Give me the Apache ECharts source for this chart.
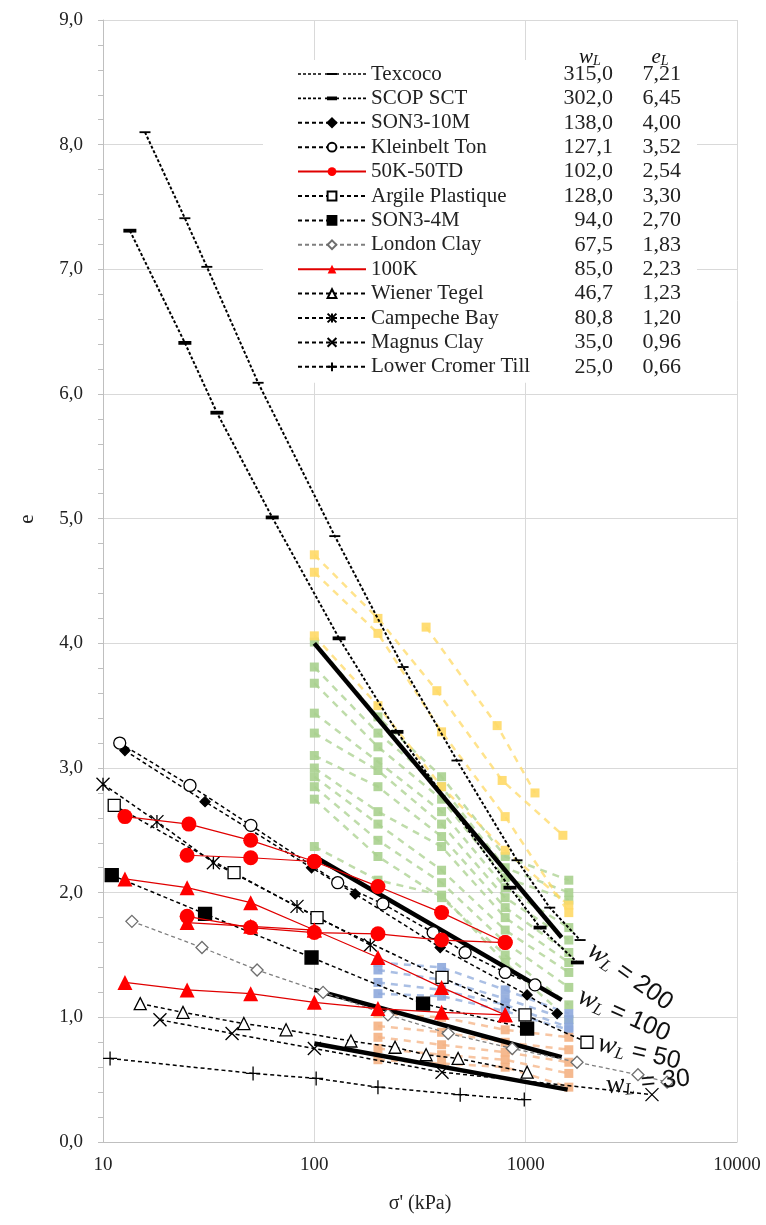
<!DOCTYPE html>
<html><head><meta charset="utf-8">
<script src="https://cdn.jsdelivr.net/npm/echarts@6/dist/echarts.min.js"></script>
<style>html,body{margin:0;padding:0;background:#fff}#c{width:766px;height:1225px}</style>
</head><body><div id="c"></div>
<script>
// ---------- legend table ----------
const soilNames = ['Texcoco','SCOP SCT','SON3-10M','Kleinbelt Ton','50K-50TD','Argile Plastique','SON3-4M','London Clay','100K','Wiener Tegel','Campeche Bay','Magnus Clay','Lower Cromer Till'];
const wLValues = ['315,0','302,0','138,0','127,1','102,0','128,0','94,0','67,5','85,0','46,7','80,8','35,0','25,0'];
const eLValues = ['7,21','6,45','4,00','3,52','2,54','3,30','2,70','1,83','2,23','1,23','1,20','0,96','0,66'];

// ---------- axis ticks ----------
const xTicks = [10, 100, 1000, 10000];
const yTicks = [0,1,2,3,4,5,6,7,8,9];

// ---------- soil data (sigma' kPa, e) ----------
const texcocoS = [15.8, 24.4, 31.0, 54.2, 125, 263, 473, 910, 1300, 1810];
const texcocoE = [8.10, 7.41, 7.02, 6.09, 4.86, 3.81, 3.06, 2.26, 1.88, 1.62];
const scopS = [13.4, 24.4, 34.6, 63.2, 131, 246, 843, 1170, 1757];
const scopE = [7.31, 6.41, 5.85, 5.01, 4.04, 3.29, 2.04, 1.72, 1.44];
const son10S = [12.7, 30.4, 97, 156, 394, 1016, 1409];
const son10E = [3.14, 2.73, 2.20, 1.99, 1.56, 1.18, 1.03];
const kleinS = [12.0, 25.8, 50.1, 129, 211, 365, 517, 800, 1107];
const kleinE = [3.20, 2.86, 2.54, 2.08, 1.91, 1.68, 1.52, 1.36, 1.26];
const k50aS = [12.7, 25.5, 50, 100, 200, 400, 800];
const k50aE = [2.61, 2.55, 2.42, 2.25, 2.05, 1.84, 1.60];
const k50bS = [25, 50, 100];
const k50bE = [2.30, 2.28, 2.25];
const k50cS = [25, 50, 100, 200, 400, 800];
const k50cE = [1.81, 1.72, 1.68, 1.67, 1.62, 1.60];
const argileS = [11.3, 41.7, 103, 402, 993, 1950];
const argileE = [2.70, 2.16, 1.80, 1.32, 1.02, 0.80];
const son4S = [11.0, 30.4, 97, 327, 1016];
const son4E = [2.14, 1.83, 1.48, 1.11, 0.91];
const londonS = [13.7, 29.4, 53.6, 110, 223, 430, 864, 1750, 3400, 4670];
const londonE = [1.77, 1.56, 1.38, 1.20, 1.02, 0.87, 0.75, 0.64, 0.54, 0.48];
const k100aS = [12.7, 25, 50, 100, 200, 400, 800];
const k100aE = [2.11, 2.04, 1.92, 1.70, 1.48, 1.24, 1.02];
const k100bS = [25, 50, 100];
const k100bE = [1.76, 1.73, 1.70];
const k100cS = [12.7, 25, 50, 100, 200, 400, 800];
const k100cE = [1.28, 1.22, 1.19, 1.12, 1.07, 1.04, 1.02];
const wienerS = [15.0, 23.9, 46.4, 73.5, 149, 241, 338, 479, 1016];
const wienerE = [1.11, 1.04, 0.95, 0.90, 0.81, 0.76, 0.70, 0.67, 0.56];
const campecheS = [10, 18.0, 33.3, 82.8, 184];
const campecheE = [2.87, 2.57, 2.24, 1.89, 1.58];
const magnusS = [18.6, 40.8, 100, 402, 3960];
const magnusE = [0.98, 0.87, 0.75, 0.56, 0.38];
const cromerS = [10.8, 51.3, 102, 200, 490, 985];
const cromerE = [0.67, 0.55, 0.51, 0.44, 0.38, 0.34];

// ---------- reference lines w_L ----------
const refLabels = ['200', '100', '50', '30'];
const refS = [[100, 1480], [100, 1480], [100, 1480], [100, 1580]];
const refE = [[4.00, 1.64], [2.29, 1.14], [1.22, 0.68], [0.79, 0.42]];

// ---------- background datasets ----------
const stepS = [100, 200, 400, 800, 1600];
const greenE = [
  [4.01, 3.41, 2.93, 2.29, 2.10],
  [3.81, 3.28, 2.85, 2.20, 2.00],
  [3.68, 3.17, 2.75, 2.12, 1.94],
  [3.44, 3.05, 2.65, 2.04, 1.72],
  [3.28, 2.98, 2.55, 1.96, 1.62],
  [3.10, 2.85, 2.45, 1.88, 1.52],
  [3.00, 2.65, 2.37, 1.80, 1.44],
  [2.93, 2.55, 2.18, 1.70, 1.36],
  [2.85, 2.42, 2.08, 1.60, 1.24],
  [2.75, 2.29, 1.96, 1.50, 1.10],
  [2.37, 2.10, 1.98, 1.44, 0.98]
];
const yellowS = [[100, 200, 380, 774, 1500], [100, 200, 400, 800, 1600], [338, 733, 1107], [100, 200, 400, 800, 1600]];
const yellowE = [[4.71, 4.20, 3.62, 2.90, 2.46], [4.57, 4.08, 3.29, 2.61, 1.84], [4.13, 3.34, 2.80], [4.06, 3.50, 2.85, 2.34, 1.90]];
const blueS = [200, 400, 800, 1600];
const blueE = [
  [1.44, 1.40, 1.22, 1.03],
  [1.38, 1.30, 1.15, 0.98],
  [1.28, 1.22, 1.10, 0.92],
  [1.19, 1.17, 1.05, 0.90]
];
const orangeS = [200, 400, 800, 1600];
const orangeE = [
  [1.03, 1.00, 0.90, 0.84],
  [0.93, 0.88, 0.80, 0.74],
  [0.84, 0.78, 0.72, 0.64],
  [0.75, 0.70, 0.66, 0.55],
  [0.66, 0.63, 0.60, 0.44]
];

// ---------- build ----------
const pts = (s, e) => s.map((x, i) => [x, e[i]]);
const SERIF = 'Liberation Serif';
const series = [];

function bg(name, s, e, color) {
  series.push({
    name: name, type: 'line', data: pts(s, e), silent: true, z: 1,
    symbol: 'rect', symbolSize: 9,
    itemStyle: { color: color, opacity: 0.9 },
    lineStyle: { color: color, width: 2.5, type: [7, 6], opacity: 0.75 }
  });
}
greenE.forEach((e, i) => bg('g' + i, stepS, e, '#A9D08E'));
yellowE.forEach((e, i) => bg('y' + i, yellowS[i], e, '#FFD966'));
blueE.forEach((e, i) => bg('b' + i, blueS, e, '#8EA9DB'));
orangeE.forEach((e, i) => bg('o' + i, orangeS, e, '#F4B183'));

refE.forEach((e, i) => series.push({
  name: 'wL' + refLabels[i], type: 'line', data: pts(refS[i], e), silent: true, z: 3,
  symbol: 'none', lineStyle: { color: '#000', width: 4.5 }
}));

const dash = [4, 3];
function blk(name, s, e, symbol, size, fill, opts) {
  opts = opts || {};
  series.push({
    name: name, type: 'line', data: pts(s, e), z: 4,
    symbol: symbol, symbolSize: size, symbolKeepAspect: true,
    itemStyle: { color: fill, borderColor: opts.border || '#000', borderWidth: opts.bw == null ? 1.3 : opts.bw },
    lineStyle: { color: opts.lc || '#000', width: opts.lw || 1.5, type: opts.lt || dash }
  });
}
const pathX = 'path://M0,0L10,10M10,0L0,10';
const pathPlus = 'path://M5,0L5,10M0,5L10,5';
const pathStar = 'path://M0,0L10,10M10,0L0,10M5,0L5,10';
const pathDashThin = 'path://M0,0L12,0L12,2L0,2Z';
const pathDashThick = 'path://M0,0L12,0L12,3.5L0,3.5Z';

blk('Texcoco', texcocoS, texcocoE, pathDashThin, 11, '#000', { lw: 2, lt: [3, 2], bw: 0 });
blk('SCOP SCT', scopS, scopE, pathDashThick, 13, '#000', { lw: 2, lt: [3, 2], bw: 0 });
blk('SON3-10M', son10S, son10E, 'diamond', 10, '#000');
blk('Kleinbelt Ton', kleinS, kleinE, 'circle', 12, '#fff');
blk('Argile Plastique', argileS, argileE, 'rect', 12, '#fff');
blk('SON3-4M', son4S, son4E, 'rect', 13, '#000');
blk('London Clay', londonS, londonE, 'diamond', 12, '#fff', { border: '#6e6e6e', lc: '#7f7f7f', lw: 1.3 });
blk('Wiener Tegel', wienerS, wienerE, 'triangle', 12, '#fff');
blk('Campeche Bay', campecheS, campecheE, pathStar, 13, '#000', { bw: 1.3 });
blk('Magnus Clay', magnusS, magnusE, pathX, 13, '#000', { bw: 1.3 });
blk('Lower Cromer Till', cromerS, cromerE, pathPlus, 14, '#000', { bw: 1.3 });

function red(name, s, e, symbol) {
  series.push({
    name: name, type: 'line', data: pts(s, e), z: 5,
    symbol: symbol, symbolSize: 15,
    itemStyle: { color: '#ff0000', borderWidth: 0 },
    lineStyle: { color: '#e00000', width: 1.2, type: 'solid' }
  });
}
red('50K-50TD', k50aS, k50aE, 'circle');
red('50K-50TD', k50bS, k50bE, 'circle');
red('50K-50TD', k50cS, k50cE, 'circle');
red('100K', k100aS, k100aE, 'triangle');
red('100K', k100bS, k100bE, 'triangle');
red('100K', k100cS, k100cE, 'triangle');

// legend icon (dotted line + dash marker) for the two dash-marker series, in a 68x11 box
function dashIcon(markH) {
  let p = 'M0,0L0.01,0L0,0.01Z M68,11L67.99,11L68,10.99Z';
  for (let x = 0; x < 68; x += 5) {
    if (x + 3 > 27 && x < 41) continue;
    p += ' M' + x + ',4.7L' + (x + 3) + ',4.7L' + (x + 3) + ',6.3L' + x + ',6.3Z';
  }
  p += ' M27,4.7L41,4.7L41,6.3L27,6.3Z';
  const t = 5.5 - markH / 2, b = 5.5 + markH / 2;
  p += ' M29,' + t + 'L39,' + t + 'L39,' + b + 'L29,' + b + 'Z';
  return 'path://' + p;
}
const legendData = soilNames.map(n => {
  if (n === 'Texcoco') return { name: n, icon: dashIcon(2.2) };
  if (n === 'SCOP SCT') return { name: n, icon: dashIcon(3.8) };
  return { name: n };
});

// w_L labels
const refLabelPos = [[590, 948, -0.62], [579, 995, -0.42], [598, 1043, -0.23], [606, 1086, 0.09]];
const graphics = refLabels.map((lab, i) => ({
  type: 'text', x: refLabelPos[i][0], y: refLabelPos[i][1], rotation: refLabelPos[i][2], z: 10,
  style: {
    text: '{w|w}{l|L}{n| = ' + lab + '}', verticalAlign: 'middle', align: 'left',
    rich: {
      w: { fontFamily: SERIF, fontStyle: 'italic', fontSize: 28, fill: '#111' },
      l: { fontFamily: SERIF, fontStyle: 'italic', fontSize: 17, fill: '#111', padding: [12, 0, 0, 0] },
      n: { fontFamily: 'Liberation Sans', fontSize: 25, fill: '#111' }
    }
  }
}));
// table headers
[['w', 'L', 590], ['e', 'L', 660]].forEach(h => graphics.push({
  type: 'text', x: h[2], y: 57, z: 10,
  style: {
    text: '{a|' + h[0] + '}{b|' + h[1] + '}', align: 'center', verticalAlign: 'middle',
    rich: {
      a: { fontFamily: SERIF, fontStyle: 'italic', fontSize: 21, fill: '#111' },
      b: { fontFamily: SERIF, fontStyle: 'italic', fontSize: 14, fill: '#111', padding: [9, 0, 0, 0] }
    }
  }
}));
graphics.push({
  type: 'text', x: 27, y: 519, rotation: Math.PI / 2, z: 10,
  style: { text: 'e', fontFamily: SERIF, fontSize: 21, fill: '#222', align: 'center', verticalAlign: 'middle' }
});

const chart = echarts.init(document.getElementById('c'), null, { renderer: 'canvas' });
chart.setOption({
  animation: false,
  backgroundColor: '#fff',
  grid: { left: 103, right: 29, top: 20, bottom: 83, containLabel: false },
  xAxis: {
    type: 'log', logBase: 10, min: xTicks[0], max: xTicks[xTicks.length - 1],
    name: "σ' (kPa)", nameLocation: 'middle', nameGap: 52,
    nameTextStyle: { fontFamily: SERIF, fontSize: 20, color: '#222' },
    axisLine: { lineStyle: { color: '#bfbfbf', width: 1 } },
    axisTick: { show: false },
    axisLabel: { fontFamily: SERIF, fontSize: 19, color: '#222', margin: 14, formatter: v => String(v) },
    splitLine: { show: true, lineStyle: { color: '#d9d9d9', width: 1 } },
    minorTick: { show: false }
  },
  yAxis: {
    type: 'value', min: yTicks[0], max: yTicks[yTicks.length - 1], interval: 1,
    axisLine: { show: true, lineStyle: { color: '#bfbfbf', width: 1 } },
    axisTick: { show: true, inside: false, length: 5, lineStyle: { color: '#bfbfbf' } },
    minorTick: { show: true, splitNumber: 5, length: 5, lineStyle: { color: '#bfbfbf' } },
    axisLabel: { fontFamily: SERIF, fontSize: 19, color: '#222', margin: 20, formatter: v => v.toFixed(1).replace('.', ',') },
    splitLine: { show: true, lineStyle: { color: '#d9d9d9', width: 1 } }
  },
  legend: {
    data: legendData, orient: 'vertical', left: 263, top: 60,
    padding: [2, 16, 4, 34], backgroundColor: '#fff',
    itemWidth: 68, itemHeight: 11, itemGap: 0.4,
    selectedMode: false,
    formatter: name => {
      const i = soilNames.indexOf(name);
      return '{n|' + name + '}{w|' + wLValues[i] + '}{e|' + eLValues[i] + '}';
    },
    textStyle: {
      fontFamily: SERIF, fontSize: 21, color: '#222', lineHeight: 24,
      rich: {
        n: { fontFamily: SERIF, fontSize: 21, width: 180, lineHeight: 24, color: '#222' },
        w: { fontFamily: SERIF, fontSize: 22, width: 62, align: 'right', lineHeight: 24, color: '#222' },
        e: { fontFamily: SERIF, fontSize: 22, width: 68, align: 'right', lineHeight: 24, color: '#222' }
      }
    }
  },
  graphic: graphics,
  series: series
});
</script></body></html>
